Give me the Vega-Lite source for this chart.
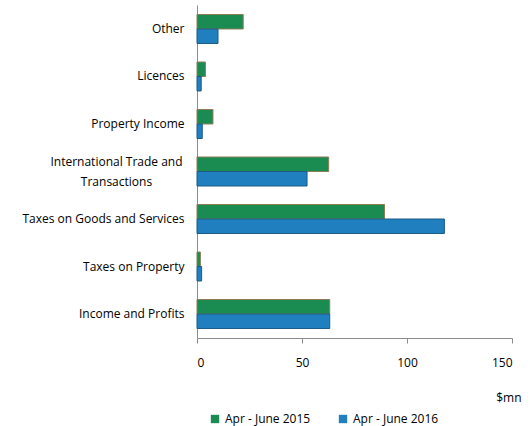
{
  "$schema": "https://vega.github.io/schema/vega-lite/v6.json",
  "width": 315,
  "height": 333,
  "padding": {"left": 21, "top": 5, "right": 5, "bottom": 5},
  "background": "white",
  "config": {
    "font": "Open Sans",
    "view": {"stroke": null},
    "axis": {"labelFont": "Open Sans", "labelFontSize": 12, "labelColor": "#000000", "titleFont": "Open Sans", "titleFontWeight": "normal", "titleColor": "#000000", "titleFontSize": 12}
  },
  "data": {
    "values": [
      {"category": "Other", "period": "Apr - June 2015", "value": 22},
      {"category": "Other", "period": "Apr - June 2016", "value": 10},
      {"category": "Licences", "period": "Apr - June 2015", "value": 4},
      {"category": "Licences", "period": "Apr - June 2016", "value": 2},
      {"category": "Property Income", "period": "Apr - June 2015", "value": 7.6},
      {"category": "Property Income", "period": "Apr - June 2016", "value": 2.5},
      {"category": "International Trade and Transactions", "period": "Apr - June 2015", "value": 62.7},
      {"category": "International Trade and Transactions", "period": "Apr - June 2016", "value": 52.4},
      {"category": "Taxes on Goods and Services", "period": "Apr - June 2015", "value": 89.3},
      {"category": "Taxes on Goods and Services", "period": "Apr - June 2016", "value": 117.8},
      {"category": "Taxes on Property", "period": "Apr - June 2015", "value": 1.6},
      {"category": "Taxes on Property", "period": "Apr - June 2016", "value": 2.2},
      {"category": "Income and Profits", "period": "Apr - June 2015", "value": 63.2},
      {"category": "Income and Profits", "period": "Apr - June 2016", "value": 63.2}
    ]
  },
  "mark": {"type": "bar", "strokeWidth": 1},
  "encoding": {
    "y": {
      "field": "category",
      "type": "nominal",
      "sort": ["Other", "Licences", "Property Income", "International Trade and Transactions", "Taxes on Goods and Services", "Taxes on Property", "Income and Profits"],
      "scale": {"paddingInner": 0.39, "paddingOuter": 0.2},
      "axis": {
        "title": null,
        "ticks": false,
        "domainColor": "#8c8c8c",
        "labelPadding": {"condition": {"test": "datum.value == 'International Trade and Transactions'", "value": 81}, "value": 13},
        "labelAlign": {"condition": {"test": "datum.value == 'International Trade and Transactions'", "value": "center"}, "value": "right"},
        "labelOffset": {"condition": {"test": "datum.value == 'International Trade and Transactions'", "value": -10}, "value": 0},
        "labelExpr": "datum.label == 'International Trade and Transactions' ? ['International Trade and', 'Transactions'] : datum.label",
        "labelLineHeight": 20
      }
    },
    "yOffset": {
      "field": "period",
      "type": "nominal",
      "sort": ["Apr - June 2015", "Apr - June 2016"]
    },
    "x": {
      "field": "value",
      "type": "quantitative",
      "scale": {"domain": [0, 150], "nice": false},
      "axis": {
        "values": [0, 50, 100, 150],
        "grid": false,
        "domainColor": "#8c8c8c",
        "tickColor": "#8c8c8c",
        "tickSize": 5,
        "labelPadding": 14,
        "title": "$mn",
        "titleAnchor": "end",
        "titleAlign": "right",
        "titleX": 324,
        "titleY": 54
      }
    },
    "color": {
      "field": "period",
      "type": "nominal",
      "scale": {"domain": ["Apr - June 2015", "Apr - June 2016"], "range": ["#1a8c52", "#1f7fbf"]},
      "legend": {
        "title": null,
        "orient": "none",
        "direction": "horizontal",
        "legendX": 12,
        "legendY": 408,
        "symbolType": "square",
        "symbolSize": 70,
        "symbolStrokeWidth": 0,
        "labelOffset": 4,
        "labelFontSize": 12,
        "labelFont": "Open Sans",
        "labelColor": "#000000",
        "columnPadding": 26
      }
    },
    "stroke": {
      "field": "period",
      "type": "nominal",
      "scale": {"domain": ["Apr - June 2015", "Apr - June 2016"], "range": ["#8c7d55", "#1d5a85"]},
      "legend": null
    }
  }
}
